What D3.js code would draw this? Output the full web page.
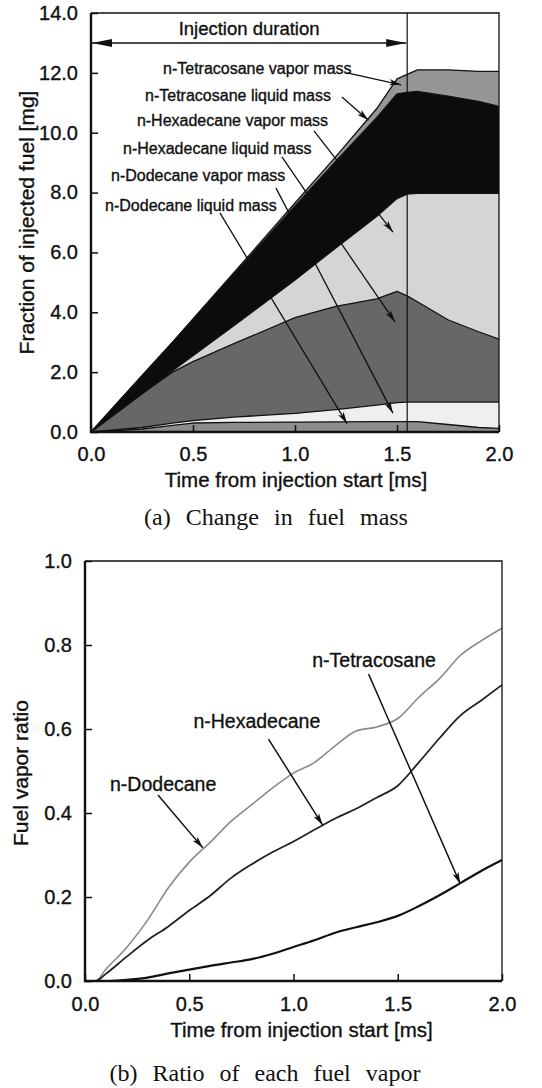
<!DOCTYPE html>
<html>
<head>
<meta charset="utf-8">
<script src="https://cdn.jsdelivr.net/npm/d3@7"></script>
<style>
  body { margin: 0; background: #fff; }
  svg { display: block; }
  text { font-family: 'Liberation Sans', Arial, sans-serif; fill: #111; }
  .sans { stroke: #111; stroke-width: 0.35; }
  .cap { font-family: 'Liberation Serif', 'Times New Roman', serif; }
</style>
</head>
<body>
<svg id="fig"></svg>
<script>
// (a) fuel mass per component [mg]
const timeA = [0, 0.25, 0.4, 0.5, 0.7, 1.0, 1.2, 1.4, 1.5, 1.55, 1.6, 1.75, 1.9, 2.0]
const dodecaneLiquid = [0, 0.1, 0.22, 0.3, 0.32, 0.33, 0.34, 0.35, 0.35, 0.35, 0.35, 0.25, 0.15, 0.12]
const dodecaneVapor = [0, 0.05, 0.08, 0.08, 0.18, 0.29, 0.41, 0.55, 0.63, 0.65, 0.65, 0.75, 0.85, 0.88]
const hexadecaneLiquid = [0, 1.13, 1.7, 1.97, 2.45, 3.2, 3.45, 3.55, 3.72, 3.55, 3.35, 2.75, 2.35, 2.1]
const hexadecaneVapor = [0, 0, 0.05, 0.2, 0.6, 1.26, 1.95, 2.75, 3.1, 3.4, 3.62, 4.22, 4.62, 4.87]
const tetracosaneLiquid = [0, 0.6, 0.95, 1.21, 1.72, 2.47, 2.9, 3.3, 3.5, 3.4, 3.41, 3.25, 3.08, 2.91]
const tetracosaneVapor = [0, 0, 0, 0.02, 0.05, 0.1, 0.15, 0.3, 0.5, 0.6, 0.72, 0.88, 1.0, 1.17]
const injectionEnd = 1.55

const massLabels = ['n-Tetracosane vapor mass', 'n-Tetracosane liquid mass', 'n-Hexadecane vapor mass',
    'n-Hexadecane liquid mass', 'n-Dodecane vapor mass', 'n-Dodecane liquid mass']
// label left/middle, leader start, leader tip (data units)
const massLabelAt = [[0.353, 12.16], [0.265, 11.26], [0.225, 10.42], [0.157, 9.49], [0.098, 8.59], [0.069, 7.58]]
const massLeadFrom = [[1.255, 12.0], [1.23, 11.19], [1.093, 10.06], [0.936, 9.19], [0.907, 8.15], [0.632, 7.32]]
const massLeadTo = [[1.52, 11.6], [1.36, 10.42], [1.48, 6.68], [1.49, 3.68], [1.48, 0.63], [1.255, 0.28]]

// (b) vapor ratio per fuel
const timeB = [0, 0.05, 0.1, 0.2, 0.3, 0.4, 0.5, 0.6, 0.7, 0.8, 0.9, 1.0, 1.1, 1.2, 1.3, 1.4, 1.5, 1.6, 1.7, 1.8, 1.9, 2.0]
const dodecaneRatio = [0, 0, 0.028, 0.08, 0.145, 0.222, 0.283, 0.33, 0.38, 0.42, 0.46, 0.495, 0.52, 0.56, 0.595, 0.605, 0.625, 0.675, 0.72, 0.775, 0.81, 0.84]
const hexadecaneRatio = [0, 0, 0.017, 0.058, 0.097, 0.13, 0.168, 0.203, 0.245, 0.278, 0.307, 0.332, 0.36, 0.387, 0.41, 0.437, 0.465, 0.52, 0.578, 0.632, 0.668, 0.705]
const tetracosaneRatio = [0, 0, 0, 0.003, 0.008, 0.018, 0.027, 0.036, 0.044, 0.052, 0.065, 0.081, 0.097, 0.115, 0.128, 0.14, 0.155, 0.178, 0.204, 0.233, 0.262, 0.288]

const ratioLabels = ['n-Tetracosane', 'n-Hexadecane', 'n-Dodecane']
const ratioLabelAt = [[1.09, 0.764], [0.52, 0.619], [0.12, 0.469]]
const ratioLeadFrom = [[1.36, 0.731], [0.88, 0.576], [0.35, 0.443]]
const ratioLeadTo = [[1.8, 0.231], [1.14, 0.371], [0.565, 0.317]]

const W = 542, H = 1088

const svg = d3.select('#fig')
    .attr('width', W)
    .attr('height', H)
    .attr('viewBox', `0 0 ${W} ${H}`)

const defs = svg.append('defs')
defs.append('marker')
    .attr('id', 'tip')
    .attr('markerUnits', 'userSpaceOnUse')
    .attr('viewBox', '0 0 12 8')
    .attr('refX', 12).attr('refY', 4)
    .attr('markerWidth', 12).attr('markerHeight', 8)
    .attr('orient', 'auto')
    .append('path').attr('d', 'M0,0.8 L12,4 L0,7.2 L3,4 Z').attr('fill', '#111')
defs.append('marker')
    .attr('id', 'bigtip')
    .attr('markerUnits', 'userSpaceOnUse')
    .attr('viewBox', '0 0 20 10')
    .attr('refX', 20).attr('refY', 5)
    .attr('markerWidth', 20).attr('markerHeight', 10)
    .attr('orient', 'auto-start-reverse')
    .append('path').attr('d', 'M0,1 L20,5 L0,9 Z').attr('fill', '#111')

function frame(g, x, y) {
    const [x0, x1] = x.range(), [y0, y1] = y.range()
    g.append('path')
        .attr('d', `M${x0},${y1} H${x1} V${y0}`)
        .attr('fill', 'none').attr('stroke', '#111').attr('stroke-width', 1.3)
    g.append('path')
        .attr('d', `M${x0},${y1} V${y0} H${x1}`)
        .attr('fill', 'none').attr('stroke', '#111').attr('stroke-width', 2.4)
}

function axes(g, x, y, yTicks, yFmt, xPad) {
    const [y0] = y.range(), [x0] = x.range()
    g.append('g')
        .attr('transform', `translate(0,${y0})`)
        .call(d3.axisBottom(x).tickValues([0, 0.5, 1, 1.5, 2]).tickFormat(d3.format('.1f')).tickSize(-7).tickPadding(xPad))
        .call(a => a.select('.domain').remove())
        .call(a => a.selectAll('line').attr('stroke', '#111').attr('stroke-width', 1.5))
        .call(a => a.selectAll('text').attr('class', 'sans').attr('font-size', 20).attr('fill', '#111'))
    g.append('g')
        .attr('transform', `translate(${x0},0)`)
        .call(d3.axisLeft(y).tickValues(yTicks).tickFormat(yFmt).tickSize(-7).tickPadding(13))
        .call(a => a.select('.domain').remove())
        .call(a => a.selectAll('line').attr('stroke', '#111').attr('stroke-width', 1.5))
        .call(a => a.selectAll('text').attr('class', 'sans').attr('font-size', 20).attr('fill', '#111'))
}

// ---------- (a) ----------
const xA = d3.scaleLinear().domain([0, 2]).range([91, 499])
const yA = d3.scaleLinear().domain([0, 14]).range([432, 13])

const layerKeys = ['dodecaneLiquid', 'dodecaneVapor', 'hexadecaneLiquid', 'hexadecaneVapor', 'tetracosaneLiquid', 'tetracosaneVapor']
const layerVals = [dodecaneLiquid, dodecaneVapor, hexadecaneLiquid, hexadecaneVapor, tetracosaneLiquid, tetracosaneVapor]
const layerFill = ['#8d8d8d', '#efefef', '#676767', '#d5d5d5', '#0c0c0c', '#969696']

const rowsA = timeA.map((t, i) => {
    const r = { t }
    layerKeys.forEach((k, j) => r[k] = layerVals[j][i])
    return r
})
const stacked = d3.stack().keys(layerKeys)(rowsA)

const gA = svg.append('g')

gA.selectAll('.layer')
    .data(stacked)
    .join('path')
    .attr('class', 'layer')
    .attr('fill', (d, i) => layerFill[i])
    .attr('d', d3.area().x(d => xA(d.data.t)).y0(d => yA(d[0])).y1(d => yA(d[1])))

gA.selectAll('.edge')
    .data(stacked)
    .join('path')
    .attr('class', 'edge')
    .attr('fill', 'none')
    .attr('stroke', '#111')
    .attr('stroke-width', 1.3)
    .attr('stroke-linejoin', 'round')
    .attr('d', d3.line().x(d => xA(d.data.t)).y(d => yA(d[1])))

gA.append('line')
    .attr('x1', xA(injectionEnd)).attr('x2', xA(injectionEnd))
    .attr('y1', yA(14)).attr('y2', yA(0))
    .attr('stroke', '#111').attr('stroke-width', 1.2)

axes(gA, xA, yA, d3.range(0, 14.01, 2), d3.format('.1f'), 15)
frame(gA, xA, yA)

// injection duration arrow
gA.append('line')
    .attr('x1', xA(0) + 1).attr('x2', xA(injectionEnd) - 1)
    .attr('y1', yA(13.0)).attr('y2', yA(13.0))
    .attr('stroke', '#111').attr('stroke-width', 1.4)
    .attr('marker-start', 'url(#bigtip)')
    .attr('marker-end', 'url(#bigtip)')
gA.append('text')
    .attr('class', 'sans')
    .attr('x', xA(injectionEnd / 2)).attr('y', yA(13.0) - 8)
    .attr('text-anchor', 'middle')
    .attr('font-size', 18.5)
    .text('Injection duration')

gA.selectAll('.lead')
    .data(massLabels)
    .join('line')
    .attr('class', 'lead')
    .attr('x1', (d, i) => xA(massLeadFrom[i][0])).attr('y1', (d, i) => yA(massLeadFrom[i][1]))
    .attr('x2', (d, i) => xA(massLeadTo[i][0])).attr('y2', (d, i) => yA(massLeadTo[i][1]))
    .attr('stroke', '#111').attr('stroke-width', 1.3)
    .attr('marker-end', 'url(#tip)')

gA.selectAll('.mlab')
    .data(massLabels)
    .join('text')
    .attr('class', 'mlab sans')
    .attr('x', (d, i) => xA(massLabelAt[i][0]))
    .attr('y', (d, i) => yA(massLabelAt[i][1]))
    .attr('dy', '0.35em')
    .attr('font-size', 16)
    .text(d => d)

gA.append('text')
    .attr('class', 'sans')
    .attr('x', (xA(0) + xA(2)) / 2 + 1).attr('y', 487)
    .attr('text-anchor', 'middle').attr('font-size', 20.5)
    .text('Time from injection start [ms]')
gA.append('text')
    .attr('class', 'sans')
    .attr('transform', `translate(34,${(yA(0) + yA(14)) / 2}) rotate(-90)`)
    .attr('text-anchor', 'middle').attr('font-size', 21)
    .text('Fraction of injected fuel [mg]')
gA.append('text')
    .attr('class', 'cap')
    .attr('x', 276).attr('y', 525)
    .attr('text-anchor', 'middle').attr('font-size', 24).attr('word-spacing', 9)
    .text('(a) Change in fuel mass')

// ---------- (b) ----------
const xB = d3.scaleLinear().domain([0, 2]).range([85, 502])
const yB = d3.scaleLinear().domain([0, 1]).range([981, 561])

const gB = svg.append('g')
axes(gB, xB, yB, d3.range(0, 1.01, 0.2), d3.format('.1f'), 16)

const ratioSeries = [dodecaneRatio, hexadecaneRatio, tetracosaneRatio]
const ratioStroke = ['#8a8a8a', '#222', '#111']
const ratioWidth = [1.6, 1.8, 2.2]

gB.selectAll('.rline')
    .data(ratioSeries)
    .join('path')
    .attr('class', 'rline')
    .attr('fill', 'none')
    .attr('stroke', (d, i) => ratioStroke[i])
    .attr('stroke-width', (d, i) => ratioWidth[i])
    .attr('stroke-linejoin', 'round')
    .attr('d', s => d3.line().x((d, i) => xB(timeB[i])).y(d => yB(d)).curve(d3.curveMonotoneX)(s))

frame(gB, xB, yB)

gB.selectAll('.lead')
    .data(ratioLabels)
    .join('line')
    .attr('class', 'lead')
    .attr('x1', (d, i) => xB(ratioLeadFrom[i][0])).attr('y1', (d, i) => yB(ratioLeadFrom[i][1]))
    .attr('x2', (d, i) => xB(ratioLeadTo[i][0])).attr('y2', (d, i) => yB(ratioLeadTo[i][1]))
    .attr('stroke', '#111').attr('stroke-width', 1.5)
    .attr('marker-end', 'url(#tip)')

gB.selectAll('.rlab')
    .data(ratioLabels)
    .join('text')
    .attr('class', 'rlab sans')
    .attr('x', (d, i) => xB(ratioLabelAt[i][0]))
    .attr('y', (d, i) => yB(ratioLabelAt[i][1]))
    .attr('dy', '0.35em')
    .attr('font-size', 19.5)
    .text(d => d)

gB.append('text')
    .attr('class', 'sans')
    .attr('x', (xB(0) + xB(2)) / 2 + 8).attr('y', 1037)
    .attr('text-anchor', 'middle').attr('font-size', 20.5)
    .text('Time from injection start [ms]')
gB.append('text')
    .attr('class', 'sans')
    .attr('transform', `translate(28,${(yB(0) + yB(1)) / 2 + 2}) rotate(-90)`)
    .attr('text-anchor', 'middle').attr('font-size', 21)
    .text('Fuel vapor ratio')
gB.append('text')
    .attr('class', 'cap')
    .attr('x', 265).attr('y', 1081)
    .attr('text-anchor', 'middle').attr('font-size', 24).attr('word-spacing', 9)
    .text('(b) Ratio of each fuel vapor')
</script>
</body>
</html>
